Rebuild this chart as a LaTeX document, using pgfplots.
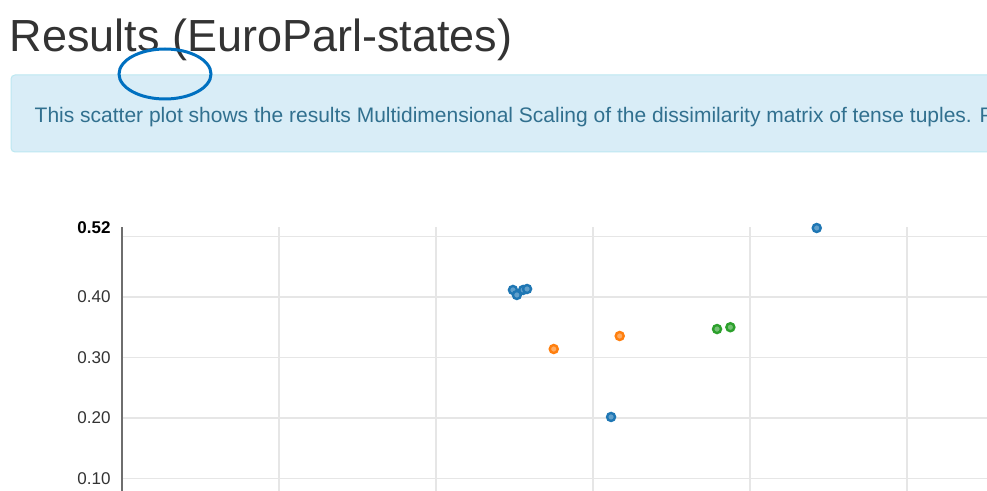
\documentclass[border=0pt]{standalone}
\usepackage{pgfplots}
\pgfplotsset{compat=1.18}
\usepackage{fontspec}
\setmainfont{Liberation Sans}
\definecolor{c1}{RGB}{31,119,180}
\definecolor{c2}{RGB}{255,127,14}
\definecolor{c3}{RGB}{44,160,44}
\definecolor{titlegray}{RGB}{51,51,51}
\definecolor{boxfill}{RGB}{217,237,247}
\definecolor{boxdraw}{RGB}{188,232,241}
\definecolor{boxtext}{RGB}{49,112,143}
\definecolor{ringblue}{RGB}{0,112,192}
\definecolor{gridgray}{RGB}{230,230,230}
\definecolor{axgray}{RGB}{110,110,110}
\begin{document}
\begin{tikzpicture}[x=1pt,y=1pt]
\useasboundingbox (0,0) rectangle (987,490);
\clip (0,0) rectangle (987,490);
\fill[white] (0,0) rectangle (987,490);
% title
\node[anchor=base west, inner sep=0pt, text=titlegray] at (9.5,438)
  {\fontsize{45}{54}\selectfont Results (EuroParl-states)};
% info box
\draw[fill=boxfill, draw=boxdraw, line width=1pt, rounded corners=4pt] (11,338) rectangle (1010,415);
\node[anchor=base west, inner sep=0pt, text=boxtext] at (34.5,367)
  {\fontsize{21}{25}\selectfont This scatter plot shows the results Multidimensional Scaling of the dissimilarity matrix of tense tuples. P};
% annotation ellipse
\draw[ringblue, line width=3pt] (165,416) ellipse [x radius=46, y radius=25];
\begin{axis}[
  at={(122pt,-49pt)}, anchor=south west,
  scale only axis, width=942pt, height=311.6pt,
  xmin=-0.6, xmax=0.6, ymin=0, ymax=0.515,
  clip=false,
  axis lines*=left,
  x axis line style={draw=none},
  y axis line style={-, draw=axgray, line width=1.6pt},
  xtick={-0.4,-0.2,0,0.2,0.4}, xticklabels={},
  ytick={0.1,0.2,0.3,0.4,0.5},
  yticklabels={0.10,0.20,0.30,0.40,{}},
  extra y ticks={0.515}, extra y tick labels={\textbf{0.52}},
  extra y tick style={grid=none, yticklabel style={text=black}},
  major tick length=0pt,
  grid=major,
  major grid style={draw=gridgray, line width=1.3pt},
  /pgf/number format/assume math mode=true,
  yticklabel style={font=\fontsize{17}{20}\selectfont, text=black!80, xshift=-8pt},
]
\addplot[only marks, mark=*, mark size=4pt, draw=c1, fill=c1!70!white, line width=2.4pt]
  coordinates {(-0.102,0.4116) (-0.097,0.4033) (-0.089,0.4116) (-0.084,0.4132) (0.023,0.2017) (0.285,0.514)};
\addplot[only marks, mark=*, mark size=4pt, draw=c2, fill=c2!65!white, line width=2.4pt]
  coordinates {(-0.050,0.314) (0.034,0.3355)};
\addplot[only marks, mark=*, mark size=4pt, draw=c3, fill=c3!65!white, line width=2.4pt]
  coordinates {(0.158,0.347) (0.175,0.350)};
\end{axis}
\end{tikzpicture}
\end{document}
